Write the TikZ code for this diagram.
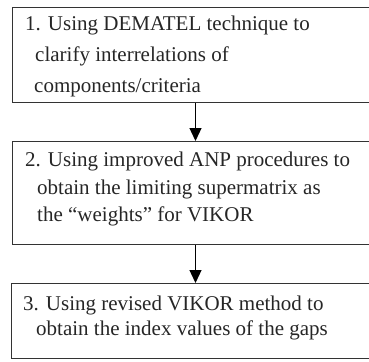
\documentclass[tikz,border=0pt]{standalone}
\usepackage{fontspec}
\setmainfont{Liberation Serif}
\usetikzlibrary{arrows.meta}
\begin{document}
\begin{tikzpicture}[x=1pt,y=1pt,
  box/.style={draw=black!80,line width=1pt,minimum width=400pt,anchor=north west,inner sep=0pt},
  txt/.style={anchor=base west,inner sep=0pt,font=\fontsize{21}{21}\selectfont,text=black!85},
  arr/.style={draw=black,line width=1.3pt,-{Triangle[width=12pt,length=13pt]}}]
\useasboundingbox (0,0) rectangle (369,-361);
\clip (0,0) rectangle (369,-361);
\node[box,minimum height=95pt] (b1) at (12,-7) {};
\node[box,minimum height=103pt] (b2) at (12,-141) {};
\node[box,minimum height=75pt] (b3) at (11,-283) {};
\node[txt] (t11) at (25,-31) {1. Using DEMATEL technique to};
\node[txt] (t12) at (35,-62) {clarify interrelations of};
\node[txt] (t13) at (34,-92) {components/criteria};
\node[txt] (t21) at (25,-166) {2. Using improved ANP procedures to};
\node[txt] (t22) at (37,-194) {obtain the limiting supermatrix as};
\node[txt] (t23) at (37,-221) {the “weights” for VIKOR};
\node[txt] (t31) at (23,-310) {3. Using revised VIKOR method to};
\node[txt] (t32) at (36,-335) {obtain the index values of the gaps};
\coordinate (ax) at (195.5,0);
\draw[arr] (b1.south -| ax) -- (b2.north -| ax);
\draw[arr] (b2.south -| ax) -- (b3.north -| ax);
\end{tikzpicture}
\end{document}
